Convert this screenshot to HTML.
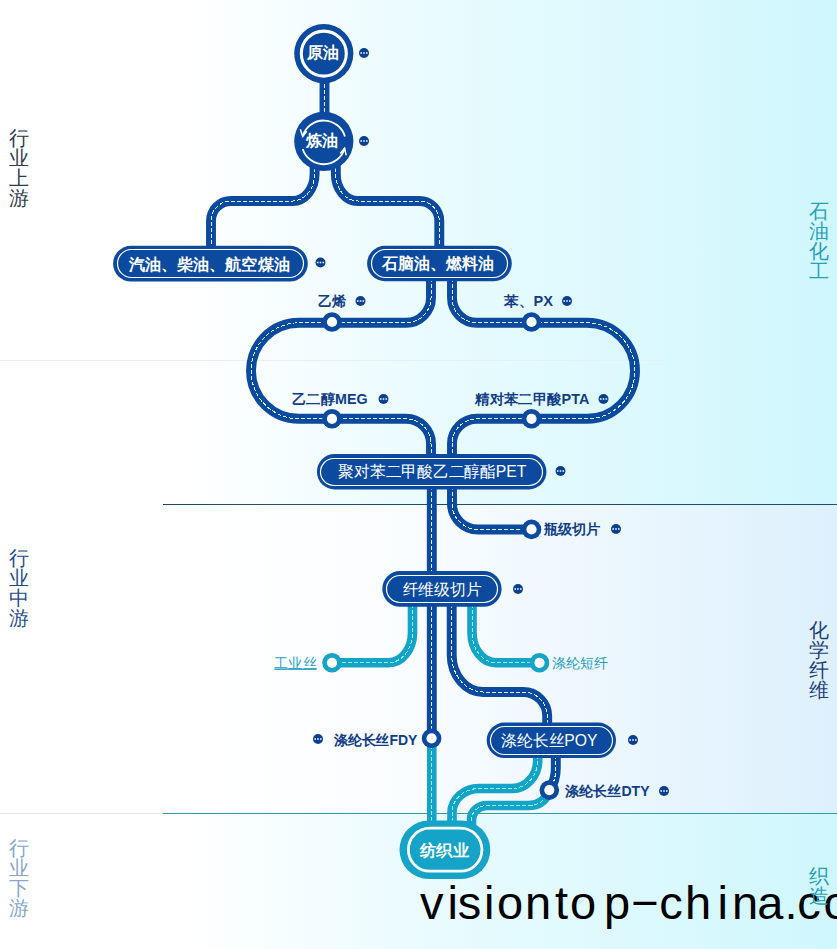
<!DOCTYPE html>
<html><head><meta charset="utf-8">
<style>
html,body{margin:0;padding:0;}
body{width:837px;height:949px;overflow:hidden;background:#fff;font-family:"Liberation Sans",sans-serif;position:relative;}
#bg{position:absolute;left:0;top:0;width:837px;height:949px;background:linear-gradient(to right,#ffffff 0px,#ffffff 188px,#eafbfe 420px,#cff7fd 837px);}
#mid{position:absolute;left:163px;top:505px;width:674px;height:308px;background:linear-gradient(to right,#ffffff 0px,#ffffff 40px,#fafdff 230px,#eff8fe 400px,#ddf0fd 674px);}
.hl{position:absolute;height:1px;}
svg{position:absolute;left:0;top:0;}
.vt{position:absolute;width:20px;font-size:20px;line-height:20px;text-align:center;word-break:break-all;}
.sans{font-family:"Liberation Sans",sans-serif;}
.serif{font-family:"Liberation Serif",serif;}
</style></head><body>
<div id="bg"></div>
<div id="mid"></div>
<div class="hl" style="left:0;top:360px;width:665px;background:#e8eff2;"></div>
<div class="hl" style="left:0;top:813px;width:163px;background:#e3e8ea;"></div>
<div class="hl" style="left:163px;top:504px;width:674px;background:#1d4d6b;"></div>
<div class="hl" style="left:163px;top:813px;width:674px;background:#2a9fb0;"></div>

<div class="vt" style="left:9px;top:128px;color:#2f3e4e;">行业上游</div>
<div class="vt" style="left:9px;top:548px;color:#1f4e8c;">行业中游</div>
<div class="vt" style="left:9px;top:838px;color:#88a6ce;">行业下游</div>
<div class="vt" style="left:809px;top:201px;color:#2a9fb8;">石油化工</div>
<div class="vt" style="left:809px;top:620px;color:#1d3f7a;">化学纤维</div>

<svg width="837" height="949" viewBox="0 0 837 949">
<defs>
<g id="dots"><circle r="5" fill="#0c3f90"/><rect x="-3.6" y="-0.8" width="1.6" height="1.6" fill="#d8f4ff"/><rect x="-0.8" y="-0.8" width="1.6" height="1.6" fill="#d8f4ff"/><rect x="2" y="-0.8" width="1.6" height="1.6" fill="#d8f4ff"/></g>
<g id="nd"><circle r="9.8" fill="#0b4a9e"/><circle r="5.1" fill="#fff"/></g>
<g id="nt"><circle r="9.8" fill="#15a4c8"/><circle r="5.1" fill="#fff"/></g>
</defs>
<!-- roads -->
<g id="roads-d" fill="none" stroke="#0b4a9e" stroke-width="9.9" stroke-linecap="butt">
<path id="pA" d="M324.5 78 V118"/>
<path id="pB" d="M314.600 162 V174 A22 27 0 0 1 292.600 201 H231 A20 20 0 0 0 211 221 V250"/>
<path id="pC" d="M335.8 162 V174 A22 27 0 0 0 357.8 201 H419.3 A20 20 0 0 1 439.3 221 V250"/>
<path id="pD" d="M431 278 V297.8 A25 25 0 0 1 406 322.8 H299 A48 48 0 0 0 299 418.8 H406 A25 25 0 0 1 431 443.8 V458"/>
<path id="pE" d="M452 278 V297.8 A25 25 0 0 0 477 322.8 H587 A48 48 0 0 1 587 418.8 H477 A25 25 0 0 0 452 443.8 V458"/>
<path id="pF" d="M431.8 486 V739"/>
<path id="pG" d="M452 486 V503.5 A26 26 0 0 0 478 529.5 H531"/>
<path id="pJ" d="M451.7 604 V655 A31.3 37 0 0 0 483 692 H523.2 A24 24 0 0 1 547.2 716 V726"/>
<path id="pK" d="M555.8 755 V768 Q555.8 781 549.3 790"/>
</g>
<g id="roads-t" fill="none" stroke="#15a4c8" stroke-width="9.6" stroke-linecap="butt">
<path id="pF2" d="M431.8 739 V826"/>
<path id="pH" d="M412.5 604 V633 A24 30 0 0 1 388.5 662.8 H332"/>
<path id="pI" d="M472 604 V633 A24 30 0 0 0 496 662.8 H540"/>
<path id="pL" d="M537.7 755 V760.5 A25.5 28 0 0 1 512.2 788.5 H479 A27 24 0 0 0 452 812.5 V826"/>
<path id="pM" d="M549.3 790 Q544.3 805.5 528 805.5 H487 A15.5 14 0 0 0 471.5 819.5 V826"/>
</g>
<g fill="none" stroke="#dbeeff" stroke-width="1" stroke-dasharray="4 2" shape-rendering="crispEdges">
<use href="#pA"/><use href="#pB"/><use href="#pC"/><use href="#pD"/><use href="#pE"/><use href="#pF"/><use href="#pG"/><use href="#pJ"/><use href="#pK"/>
</g>
<g fill="none" stroke="#8ff2ff" stroke-width="1" stroke-dasharray="4 2" shape-rendering="crispEdges">
<use href="#pF2"/><use href="#pH"/><use href="#pI"/><use href="#pL"/><use href="#pM"/>
</g>

<!-- nodes -->
<g id="nodes">
<circle cx="323.8" cy="53.6" r="29.6" fill="#0b4a9e"/><circle cx="323.8" cy="53.6" r="22.5" fill="none" stroke="#fff" stroke-width="3.1"/>
<circle cx="323.8" cy="141.3" r="29.6" fill="#0b4a9e"/>
<g fill="none" stroke="#fff" stroke-width="1.8"><path d="M302.7 136.1 A22 22 0 0 1 344.9 136.5"/><path d="M344.7 148.6 A22 22 0 0 1 302.7 149"/></g>
<path d="M300.3 129.2 L302.7 136.5 L306.8 131.2" fill="none" stroke="#fff" stroke-width="1.5"/>
<path d="M346.2 155.3 L344.6 148.2 L340.3 153.4" fill="none" stroke="#fff" stroke-width="1.5"/>
<rect x="113.1" y="245.8" width="194.7" height="35.7" rx="17.85" fill="#0b4a9e"/><rect x="117.5" y="249.5" width="186.0" height="28.0" rx="14.00" fill="none" stroke="#fff" stroke-width="1.2"/>
<rect x="367.1" y="245.8" width="144.7" height="35.4" rx="17.70" fill="#0b4a9e"/><rect x="371.5" y="249.5" width="136.0" height="28.0" rx="14.00" fill="none" stroke="#fff" stroke-width="1.2"/>
<rect x="316.9" y="454.0" width="229.6" height="35.4" rx="17.70" fill="#0b4a9e"/><rect x="320.5" y="458.5" width="222.0" height="27.0" rx="13.50" fill="none" stroke="#fff" stroke-width="1.2"/>
<rect x="382.3" y="571.0" width="119.3" height="35.8" rx="17.90" fill="#0b4a9e"/><rect x="386.5" y="575.5" width="111.0" height="27.0" rx="13.50" fill="none" stroke="#fff" stroke-width="1.2"/>
<rect x="486.7" y="722.6" width="129.3" height="35.4" rx="17.70" fill="#0b4a9e"/><rect x="490.5" y="726.5" width="122.0" height="28.0" rx="14.00" fill="none" stroke="#fff" stroke-width="1.2"/>
<rect x="399.5" y="820.5" width="90.8" height="58.6" rx="29.3" fill="#15a4c8"/><rect x="408.4" y="828.2" width="73.5" height="43" rx="21.5" fill="none" stroke="#fff" stroke-width="2.8"/>
<use href="#nd" x="332" y="322"/><use href="#nd" x="531.5" y="322"/><use href="#nd" x="332" y="418.8"/><use href="#nd" x="531.5" y="418.8"/><use href="#nd" x="531.5" y="529.4"/><use href="#nd" x="431.6" y="738.4"/><use href="#nd" x="549.3" y="790.1"/>
<use href="#nt" x="332" y="662.8"/><use href="#nt" x="539.5" y="662.8"/>
<use href="#dots" x="364" y="53"/><use href="#dots" x="364" y="141"/><use href="#dots" x="320.5" y="262.5"/><use href="#dots" x="360.5" y="301"/><use href="#dots" x="567" y="301"/><use href="#dots" x="383.5" y="399"/><use href="#dots" x="603.5" y="399"/><use href="#dots" x="560.5" y="471"/><use href="#dots" x="616" y="529"/><use href="#dots" x="518" y="589"/><use href="#dots" x="633" y="740"/><use href="#dots" x="664" y="791"/><use href="#dots" x="318" y="739"/>
</g>
<g id="txt" font-size="16" font-weight="bold" fill="#fff" font-family="'Liberation Serif',serif">
<text x="306.7" y="58.3" textLength="31.9" lengthAdjust="spacingAndGlyphs">原油</text>
<text x="306.2" y="146" textLength="32.2" lengthAdjust="spacingAndGlyphs">炼油</text>
<text x="128.7" y="269.5" textLength="161.1" lengthAdjust="spacingAndGlyphs">汽油、柴油、航空煤油</text>
<text x="381.8" y="269" textLength="111.7" lengthAdjust="spacingAndGlyphs">石脑油、燃料油</text>
<text x="420.0" y="855.5" textLength="48.9" lengthAdjust="spacingAndGlyphs">纺织业</text>
</g>
<g font-size="16" fill="#fff" font-family="'Liberation Sans',sans-serif">
<text x="338.4" y="477.2" textLength="188.1" lengthAdjust="spacingAndGlyphs">聚对苯二甲酸乙二醇酯PET</text>
<text x="402.7" y="594.8" textLength="79.0" lengthAdjust="spacingAndGlyphs">纤维级切片</text>
<text x="501.4" y="745.8" textLength="96.2" lengthAdjust="spacingAndGlyphs">涤纶长丝POY</text>
</g>
<g font-size="14" font-weight="bold" fill="#123e86" font-family="'Liberation Sans',sans-serif">
<text x="318.3" y="306" textLength="28.1" lengthAdjust="spacingAndGlyphs">乙烯</text>
<text x="504.4" y="306" textLength="48.5" lengthAdjust="spacingAndGlyphs">苯、PX</text>
<text x="292.1" y="404" textLength="75.5" lengthAdjust="spacingAndGlyphs">乙二醇MEG</text>
<text x="475.3" y="404" textLength="114.0" lengthAdjust="spacingAndGlyphs">精对苯二甲酸PTA</text>
<text x="543.9" y="534" textLength="56.7" lengthAdjust="spacingAndGlyphs">瓶级切片</text>
<text x="333.6" y="744.5" textLength="83.8" lengthAdjust="spacingAndGlyphs">涤纶长丝FDY</text>
<text x="565.2" y="796.3" textLength="84.4" lengthAdjust="spacingAndGlyphs">涤纶长丝DTY</text>
</g>
<g font-size="14" fill="#2a9fc0" font-family="'Liberation Sans',sans-serif">
<text x="274.4" y="667.5" textLength="42.2" lengthAdjust="spacingAndGlyphs" text-decoration="underline">工业丝</text>
<text x="552.1" y="668" textLength="56.5" lengthAdjust="spacingAndGlyphs">涤纶短纤</text>
</g>
<text id="wm" x="419.9 447.4 457.8 484.1 496.9 525.1 554.9 570.1 604.1 631.2 659.3 685.0 717.6 732.1 757.2 784.4 797.2 823.6" y="919.3" font-size="47" fill="#000" font-family="'Liberation Sans',sans-serif">visiontop−china.co</text>
</svg>
<div class="vt" style="left:809px;top:866px;color:#2a9fb8;">织造</div>

</body></html>
